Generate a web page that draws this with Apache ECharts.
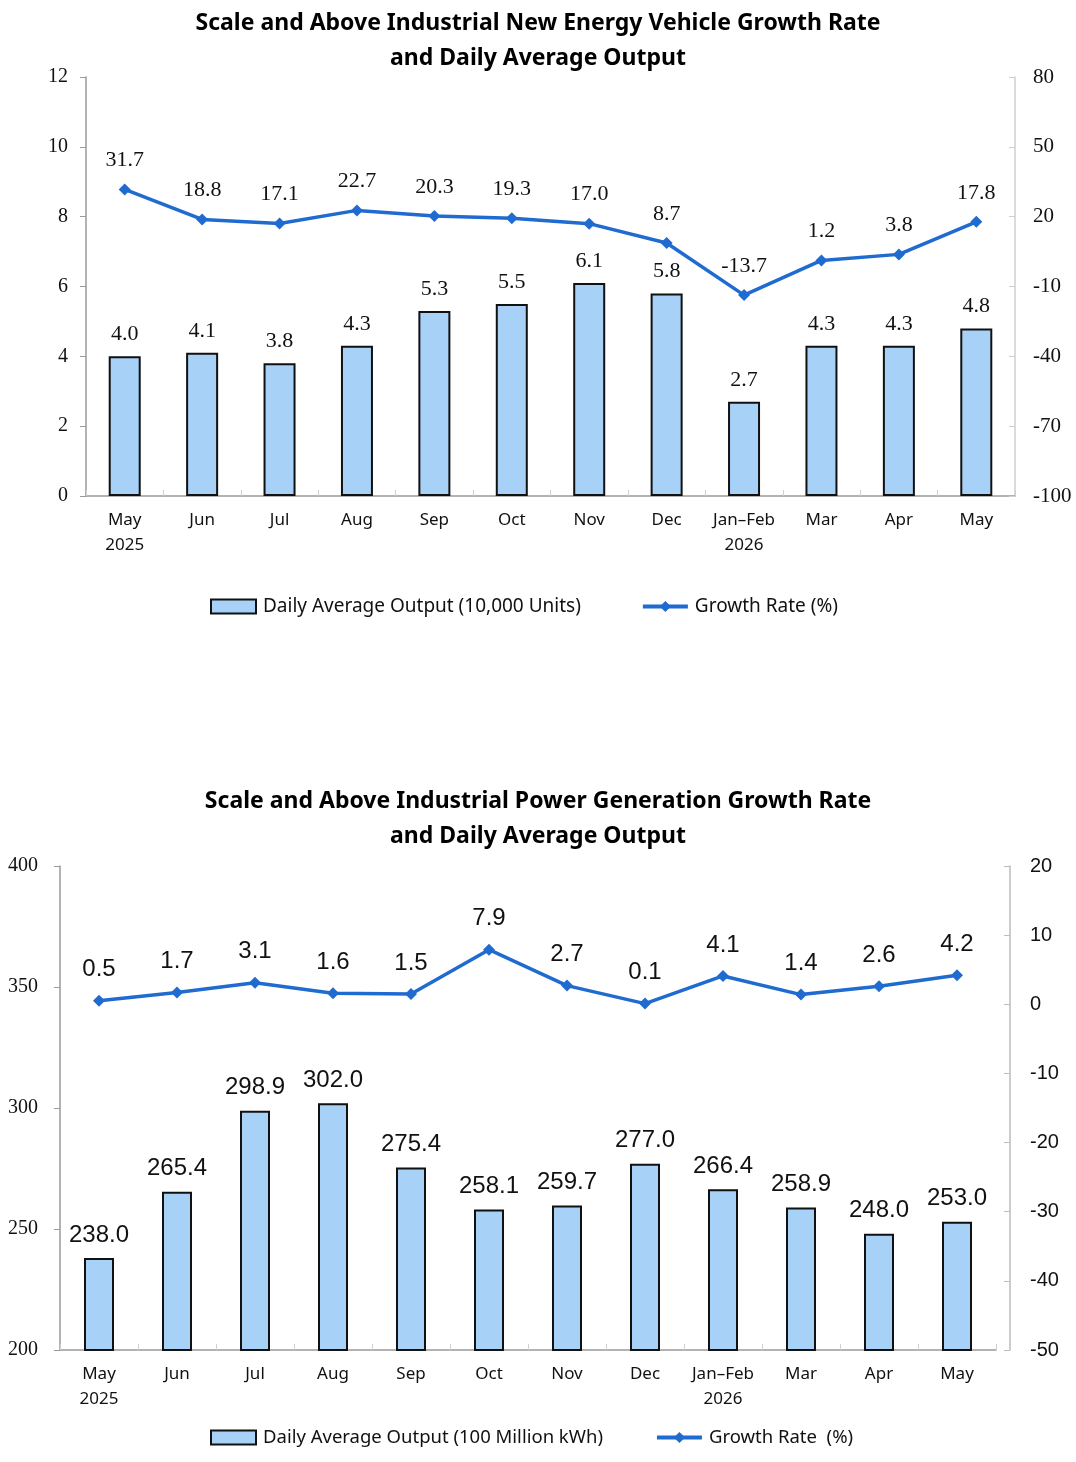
<!DOCTYPE html>
<html><head><meta charset="utf-8">
<script src="https://cdn.jsdelivr.net/npm/echarts@6/dist/echarts.min.js"></script>
<style>html,body{margin:0;padding:0;background:#fff}#c{width:1076px;height:1462px}</style>
</head><body><div id="c"></div>
<script>
const categories = ['May\n2025','Jun','Jul','Aug','Sep','Oct','Nov','Dec','Jan\u2013Feb\n2026','Mar','Apr','May'];
const nevOutput = [4.0,4.1,3.8,4.3,5.3,5.5,6.1,5.8,2.7,4.3,4.3,4.8];
const nevGrowth = [31.7,18.8,17.1,22.7,20.3,19.3,17.0,8.7,-13.7,1.2,3.8,17.8];
const powerOutput = [238.0,265.4,298.9,302.0,275.4,258.1,259.7,277.0,266.4,258.9,248.0,253.0];
const powerGrowth = [0.5,1.7,3.1,1.6,1.5,7.9,2.7,0.1,4.1,1.4,2.6,4.2];

const BLUE = '#1f6bd0';
const BARFILL = '#a8d1f8';
const serif = 'Liberation Serif';
const sans = 'Noto Sans';
const arial = 'Liberation Sans';

const chart = echarts.init(document.getElementById('c'));
const xCommon = {
  type:'category', data: categories,
  axisLine:{show:true, onZero:false, lineStyle:{color:'#9a9a9a', width:1.5}},
  axisTick:{show:true, inside:true, alignWithLabel:false, length:6, lineStyle:{color:'#cfcfcf'}},
  axisLabel:{fontFamily:sans, fontSize:17, color:'#111', lineHeight:25, margin:12, interval:0},
  splitLine:{show:false}
};
const legendCommon = {itemWidth:45, itemHeight:14, left:205,
  lineStyle:{width:4}, textStyle:{fontFamily:sans, fontSize:19, color:'#111', padding:[0,0,0,2]}};
chart.setOption({
  animation:false,
  title:[
    {text:'Scale and Above Industrial New Energy Vehicle Growth Rate\nand Daily Average Output', left:'center', top:1,
     textStyle:{fontFamily:sans, fontWeight:'bold', fontSize:23, lineHeight:35, color:'#000'}},
    {text:'Scale and Above Industrial Power Generation Growth Rate\nand Daily Average Output', left:'center', top:779,
     textStyle:{fontFamily:sans, fontWeight:'bold', fontSize:23, lineHeight:35, color:'#000'}}
  ],
  legend:[
    Object.assign({}, legendCommon, {top:592, itemGap:60,
      data:[{name:'Daily Average Output (10,000 Units)', icon:'rect'},{name:'Growth Rate (%)'}]}),
    Object.assign({}, legendCommon, {top:1423, itemGap:52, textStyle:{fontFamily:sans, fontSize:18.5, color:'#111', padding:[0,0,0,2]},
      data:[{name:'Daily Average Output (100 Million kWh)', icon:'rect'},{name:'Growth Rate  (%)'}]})
  ],
  grid:[
    {left:86, right:61, top:77, height:419},
    {left:60, right:80, top:866, height:484}
  ],
  xAxis:[
    Object.assign({}, xCommon, {gridIndex:0}),
    Object.assign({}, xCommon, {gridIndex:1})
  ],
  yAxis:[
    {gridIndex:0, type:'value', min:0, max:12, interval:2, position:'left',
     axisLine:{show:true, lineStyle:{color:'#9a9a9a', width:1.5}}, axisTick:{show:true, length:6, lineStyle:{color:'#9a9a9a'}},
     axisLabel:{fontFamily:serif, fontSize:20, color:'#111', margin:18}, splitLine:{show:false}},
    {gridIndex:0, type:'value', min:-100, max:80, interval:30, position:'right',
     axisLine:{show:true, lineStyle:{color:'#cfcfcf', width:1.5}}, axisTick:{show:true, inside:true, length:6, lineStyle:{color:'#cfcfcf'}},
     axisLabel:{fontFamily:serif, fontSize:21, color:'#111', margin:18}, splitLine:{show:false}},
    {gridIndex:1, type:'value', min:200, max:400, interval:50, position:'left',
     axisLine:{show:true, lineStyle:{color:'#9a9a9a', width:1.5}}, axisTick:{show:true, length:6, lineStyle:{color:'#9a9a9a'}},
     axisLabel:{fontFamily:serif, fontSize:20, color:'#111', margin:22}, splitLine:{show:false}},
    {gridIndex:1, type:'value', min:-50, max:20, interval:10, position:'right', offset:14,
     axisLine:{show:true, lineStyle:{color:'#bdbdbd', width:1.5}}, axisTick:{show:true, inside:true, length:6, lineStyle:{color:'#bdbdbd'}},
     axisLabel:{fontFamily:arial, fontSize:20, color:'#111', margin:20}, splitLine:{show:false}}
  ],
  series:[
    {name:'Daily Average Output (10,000 Units)', type:'bar', xAxisIndex:0, yAxisIndex:0, data:nevOutput, barWidth:32,
     itemStyle:{color:BARFILL, borderColor:'#111', borderWidth:2},
     label:{show:true, position:'top', distance:11, fontFamily:serif, fontSize:22, color:'#111', formatter:p=>p.value.toFixed(1)}},
    {name:'Growth Rate (%)', type:'line', xAxisIndex:0, yAxisIndex:1, data:nevGrowth, symbol:'diamond', symbolSize:12,
     lineStyle:{color:BLUE, width:3.5}, itemStyle:{color:BLUE},
     label:{show:true, position:'top', distance:12, fontFamily:serif, fontSize:22, color:'#111', formatter:p=>p.value.toFixed(1)}},
    {name:'Daily Average Output (100 Million kWh)', type:'bar', xAxisIndex:1, yAxisIndex:2, data:powerOutput, barWidth:30,
     itemStyle:{color:BARFILL, borderColor:'#111', borderWidth:2},
     label:{show:true, position:'top', distance:11, fontFamily:arial, fontSize:24, color:'#111', formatter:p=>p.value.toFixed(1)}},
    {name:'Growth Rate  (%)', type:'line', xAxisIndex:1, yAxisIndex:3, data:powerGrowth, symbol:'diamond', symbolSize:12,
     lineStyle:{color:BLUE, width:3.5}, itemStyle:{color:BLUE},
     label:{show:true, position:'top', distance:13, fontFamily:arial, fontSize:24, color:'#111', formatter:p=>p.value.toFixed(1)}}
  ]
});
</script></body></html>
